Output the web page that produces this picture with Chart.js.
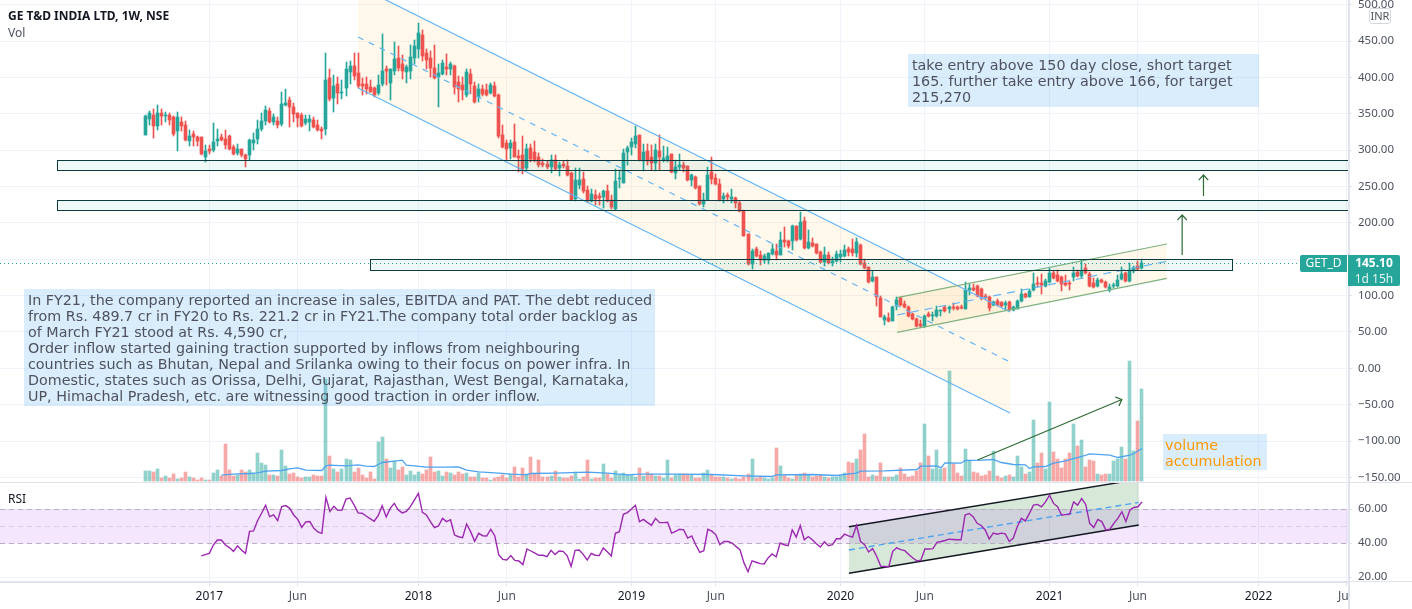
<!DOCTYPE html>
<html>
<head>
<meta charset="utf-8">
<script src="https://cdn.jsdelivr.net/npm/chart.js@4"></script>
<style>
  html, body { margin: 0; padding: 0; background: #fff; }
  #wrap { position: relative; width: 1412px; height: 609px; overflow: hidden; }
  canvas { position: absolute; left: 0; top: 0; }
  .t { position: absolute; white-space: nowrap; font-family: "DejaVu Sans", sans-serif; }
  .note { font-size: 14.3px; line-height: 16px; color: #4f525c; background: rgba(33,150,243,0.17); box-sizing: border-box; padding: 3px 4px; }
  .legend { font-family: "Noto Sans", sans-serif; font-size: 12px; line-height: 16px; color: #131722; left: 8px; }
</style>
</head>
<body>
<div id="wrap">
  <canvas id="c" width="1412" height="609"></canvas>
  <div class="t legend" style="top:8px;font-weight:bold;">GE T&amp;D INDIA LTD, 1W, NSE</div>
  <div class="t legend" style="top:25px;color:#4c525e;">Vol</div>
  <div class="t legend" style="top:491px;">RSI</div>
  <div class="t note" style="left:24px;top:289px;width:631px;height:117px;">In FY21, the company reported an increase in sales, EBITDA and PAT. The debt reduced<br>from Rs. 489.7 cr in FY20 to Rs. 221.2 cr in FY21.The company total order backlog as<br>of March FY21 stood at Rs. 4,590 cr,<br>Order inflow started gaining traction supported by inflows from neighbouring<br>countries such as Bhutan, Nepal and Srilanka owing to their focus on power infra. In<br>Domestic, states such as Orissa, Delhi, Gujarat, Rajasthan, West Bengal, Karnataka,<br>UP, Himachal Pradesh, etc. are witnessing good traction in order inflow.</div>
  <div class="t note" style="left:908px;top:54px;width:351px;height:53px;">take entry above 150 day close, short target<br>165. further take entry above 166, for target<br>215,270</div>
  <div class="t note" style="left:1163px;top:434px;width:104px;height:36px;color:#ff9800;padding:3px 2px;">volume<br>accumulation</div>
  <div style="position:absolute;left:1350px;top:583px;width:62px;height:26px;background:#fff;"></div>
  <div class="t" style="left:1369px;top:8px;width:22px;height:16px;border:1px solid #d6d8e0;border-radius:3px;box-sizing:border-box;background:#fff;font:11px/14px 'Noto Sans';color:#4c525e;text-align:center;">INR</div>
  <div class="t" style="left:1300px;top:255px;width:47px;height:17px;background:#26a69a;border-radius:2px 0 0 2px;color:#fff;font:12px/16px 'Noto Sans';text-align:center;">GET_D</div>
  <div class="t" style="left:1348px;top:255px;width:52px;height:31px;background:#26a69a;border-radius:0 2px 2px 0;color:#fff;font:bold 12px/16px 'Noto Sans';text-align:center;">145.10<br><span style="font-weight:normal;color:#e3f4f2;">1d 15h</span></div>
</div>
<script>
// weekly candles (bar 0 = Sep 2016)
const opens = [321,343,348,333,351,347,348,345,326,338,335,312,322,318,318,291,302,300,312,318,
  315,320,304,296,302,293,293,310,315,329,340,354,339,340,336,362,369,359,351,348,
  337,339,342,335,329,329,399,372,391,379,385,407,416,406,391,391,387,385,379,391,
  412,392,409,427,418,407,409,427,439,458,433,427,413,401,405,414,411,416,394,390,
  376,405,388,373,384,383,379,388,376,321,310,303,311,292,293,275,303,297,291,282,
  281,277,286,275,281,278,269,233,252,260,245,230,238,237,236,244,231,219,260,255,
  297,304,308,321,285,299,291,282,299,286,286,295,269,277,280,278,259,263,251,226,
  232,270,262,253,233,238,233,234,227,216,185,143,164,156,149,149,157,161,156,176,
  175,175,196,178,203,165,172,171,160,146,156,145,148,153,154,164,164,159,170,145,
  139,120,125,97,66,69,65,86,97,88,84,75,68,61,57,75,72,72,79,84,
  81,84,84,84,82,107,110,113,109,99,98,87,93,91,87,91,80,81,92,102,
  98,108,117,117,113,119,131,128,126,117,117,126,132,127,138,130,117,113,121,119,
  108,113,113,123,131,120,134,140,138];
const highs = [348,354,357,362,356,353,351,347,352,345,340,328,326,320,318,307,307,337,329,322,
  327,321,307,308,302,295,315,323,341,351,361,358,350,346,380,384,373,365,351,351,
  348,348,346,341,332,433,411,403,400,397,421,423,433,433,399,401,396,387,403,460,
  415,412,449,443,431,417,445,451,475,465,439,436,445,418,424,432,421,417,402,401,
  412,412,394,391,390,391,392,394,377,335,314,314,336,300,319,308,308,313,296,288,
  285,293,293,284,285,286,270,275,275,270,250,247,245,241,245,252,238,274,273,302,
  306,317,333,321,308,308,307,308,321,306,304,295,286,295,284,278,267,264,251,241,
  277,291,267,260,241,241,247,236,230,218,185,164,167,161,157,158,171,171,187,194,
  176,197,196,215,208,190,179,171,161,167,160,153,161,163,170,167,178,179,171,150,
  139,134,125,99,73,76,85,98,98,92,86,76,69,66,73,77,77,86,80,86,
  85,90,86,87,119,116,116,115,110,102,99,93,95,91,93,93,86,94,109,104,
  109,131,126,130,123,138,134,135,127,128,120,139,135,149,143,132,124,124,123,120,
  116,117,128,139,133,145,141,148,150];
const lows = [321,335,317,328,335,338,335,320,299,326,312,305,305,305,293,284,294,297,305,312,
  302,300,293,293,291,277,286,300,308,326,335,337,335,331,333,361,332,339,332,332,
  335,326,331,326,315,321,368,352,363,370,374,391,396,385,376,377,380,373,376,388,
  390,369,403,409,398,392,398,418,427,423,412,401,398,359,403,403,403,377,366,369,
  373,377,365,366,374,374,377,373,317,303,286,288,290,270,267,273,284,284,277,277,
  274,269,273,264,275,264,231,230,247,241,229,229,225,225,221,229,219,218,248,255,
  280,293,303,285,271,280,273,271,272,283,283,269,260,272,270,258,251,247,225,222,
  231,253,252,230,227,230,227,220,215,182,142,137,153,142,145,143,156,149,156,167,
  165,163,175,176,164,164,167,157,145,141,143,141,146,146,153,154,154,153,142,137,
  117,119,86,70,59,64,65,80,85,83,71,66,57,57,57,70,65,71,72,77,
  76,80,80,81,81,101,106,98,94,95,79,85,86,84,80,79,79,81,91,97,
  98,106,112,102,112,117,123,119,106,113,108,120,126,124,130,112,110,112,117,110,
  105,110,112,121,119,119,131,135,137];
const closes = [347,351,333,351,347,348,341,322,345,333,314,319,318,312,295,299,299,311,315,314,
  307,302,295,302,293,288,314,314,329,340,355,339,345,334,363,365,359,350,344,333,
  343,343,332,328,326,396,370,388,379,380,412,416,402,388,388,384,380,376,390,409,
  409,411,425,413,409,414,428,443,461,429,424,413,399,406,420,411,418,387,384,383,
  407,391,366,384,377,376,390,374,319,304,302,310,291,289,274,302,288,286,280,280,
  277,286,274,280,278,266,231,259,259,244,230,240,233,234,244,230,222,258,262,296,
  303,311,319,286,297,285,282,300,291,289,292,270,277,280,275,259,266,248,226,231,
  266,260,253,231,237,236,236,227,216,182,143,161,154,149,154,158,164,156,176,174,
  168,196,176,201,165,174,168,159,146,156,145,148,157,157,163,160,159,174,143,138,
  119,125,98,71,71,65,84,94,87,84,72,68,58,58,72,72,73,80,80,79,
  84,83,81,83,108,110,108,99,98,97,83,91,87,86,90,80,84,93,102,98,
  106,116,116,115,120,131,124,120,116,115,116,131,127,134,131,113,112,121,119,112,
  112,115,121,130,120,135,138,137,145.1];

const volumes = [33,33,30,39,12,18,12,24,9,12,30,15,12,6,12,6,6,27,36,18,
  114,36,18,21,36,30,36,24,87,57,51,21,21,18,96,48,24,27,15,12,
  15,15,21,16,18,309,78,39,30,39,69,66,30,42,21,12,30,9,120,135,
  69,42,63,36,45,21,33,21,30,24,36,75,30,33,18,30,27,21,30,24,
  27,15,15,27,12,12,6,12,15,21,12,24,45,15,42,24,75,24,66,15,
  15,18,33,15,12,12,18,30,9,15,66,9,12,12,54,24,12,33,21,27,
  21,21,15,42,18,30,22,16,17,12,64,12,19,22,22,19,20,11,11,25,
  34,20,14,14,13,10,8,10,9,13,22,67,11,15,11,8,10,100,46,19,
  11,7,19,24,25,19,13,17,21,13,10,13,13,17,25,59,55,67,94,142,
  14,19,18,55,13,13,13,19,40,22,13,16,32,55,172,76,37,94,39,42,
  331,52,25,17,97,61,28,25,16,21,31,93,16,10,16,19,13,76,43,22,
  30,185,55,85,37,238,88,67,40,67,85,172,106,124,43,64,61,22,19,24,
  22,61,67,103,67,361,91,181,277];

// volume moving average: the bars where its line bends, and its level there
const maBars = [19,22,26,28,30,34,36,38,40,44,45,46,50,53,55,57,58,59,62,64,65,67,70,75,78,80,83,88,91,95,96,102,110,115,120,123,
  132,141,149,156,157,166,172,177,178,184,192,193,197,198,199,203,204,208,211,213,216,219,220,221,224,226,229,233,235,240,242,245,246,248];
const maValues = [19,22,24,26,31,33,38,41,34,33,47,49,47,50,46,45,51,57,61,64,49,47,43,43,44,34,29,25,22,20,24,25,28,25,20,22,
  22,21,17,15,20,21,18,25,31,32,36,46,47,41,56,55,63,64,66,57,51,50,39,44,45,55,62,75,83,79,72,79,84,99];

const rsiStart = 14; // RSI begins at this bar
const rsiValues = [32.4,33.2,33.9,38.8,41.8,41.8,38.8,37.3,35.1,38.4,35.9,33.9,46.9,47.1,53.1,57.5,62.2,55.5,56.5,53.1,
  61.4,62,60.4,56.5,53.9,49.2,52.4,52.6,48.6,46.5,45.7,66.9,58.6,61.6,59.2,59.4,65.9,66.5,62.4,57.7,
  57.5,55.9,54.3,52.8,56.1,62,55.3,60.4,63.3,59.4,57.7,58.6,61.4,65.3,69.2,58,56.5,52.6,49,50,
  54.5,52.6,53.7,44.7,43.7,43.2,51.2,46.7,41,45.7,44.3,44.1,48,44.3,33,30.4,30,32.6,29.8,29.4,
  27.3,36.5,35.3,34.1,32.8,32.8,32,35.7,33.2,35.3,35.1,32.6,26.3,35.7,35.9,33.3,30,33.9,32.8,32.6,
  37.1,34.9,32.4,45.7,46.7,56.9,57.9,60,62.2,
  52.6,53.9,52,50.5,54.5,52,52,52.2,45.8,46.8,48.1,47.7,42.9,44.2,39,34.5,35.5,48.1,47,44.8,
  39,40.9,40.9,40,38,36.1,28.3,23.1,29.5,28.7,27.9,27.7,31.2,33.6,31.8,40,39,38.4,47.7,43.5,
  50.3,41.9,43.8,41.9,39.6,37.6,40.7,38.4,39,42.5,42.5,45.2,44.2,43.5,50.3,40.9,39,34.7,36.7,32.2,
  26.4,26.2,26,35.1,37.2,36.1,35.5,33.2,31.2,29.5,29.9,36.5,36.5,36.7,40.4,40.9,41.5,42.3,42.1,41.9,
  41.9,56.5,57.4,55.5,51.6,50.3,47.7,42.3,45.8,45.2,45.8,45.4,40.9,42.9,49.7,54.5,53,57.4,62.3,62.7,
  61.3,64.2,68.1,63.3,61.3,56.5,56.7,56.9,64.2,62.3,66.2,62.7,51.6,49.1,53.9,52.6,47.7,48.1,51.6,54.5,
  58.4,52.6,59.4,60.9,61.3,64.2];

const priceTicks = [-150,-100,-50,0,50,100,150,200,250,300,350,400,450,500];
const rsiTicks = [20,40,60];
const timeTickBars = [16,38,68,90,121,142,173,194,225,247,277,299];
const timeTickLabels = ['2017','Jun','2018','Jun','2019','Jun','2020','Jun','2021','Jun','2022','Jun'];
const lastPrice = 145.10;

// drawings on the chart, in bar number / price (or RSI) units
const downBars = [53, 215.2];
const downUpper = [525.6, 77.4];
const downMiddle = [455.5, 8.7];
const downLower = [385.4, -61.4];
const upBars = [187.1, 254.2];
const upUpper = [97.1, 170.9];
const upMiddle = [73.3, 147.1];
const upLower = [49.5, 123.7];
const zones = [
  { from: -21.9, to: 299.25, top: 286, bottom: 272.2 },
  { from: -21.9, to: 299.25, top: 231, bottom: 217.2 },
  { from: 56, to: 270.3, top: 149.9, bottom: 135.6 }
];
const arrows = [
  { x: [258, 258], y: [155.8, 210.8] },
  { x: [263.3, 263.3], y: [237, 265.8] },
  { x: [207.1, 243], y: [-126, -42.9] }
];
const rsiBars = [175.1, 247.2];
const rsiUpper = [49.6, 77.5];
const rsiMiddle = [35.9, 63.9];
const rsiLower = [22.2, 50.6];

const UP = '#26a69a', DOWN = '#ef5350';
const GRID = '#f0f3fa', AXIS = '#dfe3ee', LABEL = '#4c525e';
const FONT = 'Noto Sans';

const isUp = i => closes[i] >= opens[i];
const candleColors = opens.map((o, i) => isUp(i) ? UP : DOWN);
const volColors = opens.map((o, i) => isUp(i) ? 'rgba(38,166,154,0.5)' : 'rgba(239,83,80,0.5)');

function pt(chart, x, y, axis) {
  return [chart.scales.x.getPixelForValue(x), chart.scales[axis || 'y'].getPixelForValue(y)];
}

function seg(ctx, chart, bars, vals, axis, color, dash, width) {
  const a = pt(chart, bars[0], vals[0], axis), b = pt(chart, bars[1], vals[1], axis);
  ctx.strokeStyle = color;
  ctx.lineWidth = width || 1.2;
  ctx.setLineDash(dash || []);
  ctx.beginPath(); ctx.moveTo(a[0], a[1]); ctx.lineTo(b[0], b[1]); ctx.stroke();
  ctx.setLineDash([]);
}

function poly(ctx, chart, bars, upper, lower, axis, color) {
  const a = pt(chart, bars[0], upper[0], axis), b = pt(chart, bars[1], upper[1], axis);
  const c = pt(chart, bars[1], lower[1], axis), d = pt(chart, bars[0], lower[0], axis);
  ctx.fillStyle = color;
  ctx.beginPath(); ctx.moveTo(a[0], a[1]); ctx.lineTo(b[0], b[1]); ctx.lineTo(c[0], c[1]); ctx.lineTo(d[0], d[1]); ctx.closePath(); ctx.fill();
}

function paneClip(ctx, chart, axis) {
  const s = chart.scales[axis], area = chart.chartArea;
  ctx.beginPath(); ctx.rect(area.left, s.top, area.right - area.left, s.bottom - s.top); ctx.clip();
}

// line up candles and volume on whole pixels, the way the original does
const snapBars = {
  id: 'snapBars',
  afterDatasetsUpdate(chart) {
    chart.data.datasets.forEach((ds, n) => {
      if (ds.type !== 'bar') return;
      chart.getDatasetMeta(n).data.forEach(el => {
        el.x = Math.floor(el.x) + 0.5;
        el.y = Math.round(el.y);
        el.base = Math.round(el.base);
        if (el.y === el.base) el.y -= 1;
      });
    });
  }
};

const drawings = {
  id: 'drawings',
  beforeDatasetsDraw(chart) {
    const ctx = chart.ctx, area = chart.chartArea;
    ctx.save();
    paneClip(ctx, chart, 'y');
    poly(ctx, chart, downBars, downUpper, downLower, 'y', 'rgba(255,170,0,0.08)');
    poly(ctx, chart, upBars, upUpper, upLower, 'y', 'rgba(255,170,0,0.08)');
    ctx.restore();

    ctx.save();
    paneClip(ctx, chart, 'yRsi');
    poly(ctx, chart, rsiBars, rsiUpper, rsiLower, 'yRsi', 'rgba(56,142,60,0.2)');
    const y60 = chart.scales.yRsi.getPixelForValue(60), y40 = chart.scales.yRsi.getPixelForValue(40);
    ctx.fillStyle = 'rgba(135,5,235,0.1)';
    ctx.fillRect(area.left, y60, area.right - area.left, y40 - y60);
    [[60, '#b9aebf'], [50, '#d9cfe3'], [40, '#b9aebf']].forEach(([v, color]) => {
      const y = Math.round(chart.scales.yRsi.getPixelForValue(v)) + 0.5;
      ctx.strokeStyle = color; ctx.lineWidth = 1; ctx.setLineDash([5, 4]);
      ctx.beginPath(); ctx.moveTo(area.left, y); ctx.lineTo(area.right, y); ctx.stroke();
    });
    ctx.setLineDash([]);
    seg(ctx, chart, rsiBars, rsiUpper, 'yRsi', '#131722', null, 1.4);
    seg(ctx, chart, rsiBars, rsiLower, 'yRsi', '#131722', null, 1.4);
    seg(ctx, chart, rsiBars, rsiMiddle, 'yRsi', '#4da3f0', [6, 4], 1.4);
    ctx.restore();
  },
  afterDatasetsDraw(chart) {
    const ctx = chart.ctx, area = chart.chartArea;
    ctx.save();
    paneClip(ctx, chart, 'y');
    seg(ctx, chart, downBars, downUpper, 'y', '#64b5f6');
    seg(ctx, chart, downBars, downLower, 'y', '#64b5f6');
    seg(ctx, chart, downBars, downMiddle, 'y', '#64b5f6', [6, 6]);
    seg(ctx, chart, upBars, upUpper, 'y', '#7fb27f');
    seg(ctx, chart, upBars, upLower, 'y', '#7fb27f');
    seg(ctx, chart, upBars, upMiddle, 'y', '#64b5f6', [8, 6]);

    // last price dotted line
    const ly = Math.round(chart.scales.y.getPixelForValue(lastPrice)) + 0.5;
    ctx.strokeStyle = UP; ctx.lineWidth = 1; ctx.setLineDash([1, 3]);
    ctx.beginPath(); ctx.moveTo(area.left, ly); ctx.lineTo(area.right, ly); ctx.stroke();
    ctx.setLineDash([]);

    zones.forEach(z => {
      const a = pt(chart, z.from, z.top), b = pt(chart, z.to, z.bottom);
      const x = Math.round(a[0]) + 0.5, y = Math.round(a[1]) + 0.5;
      const w = Math.round(b[0]) - Math.round(a[0]), h = Math.round(b[1]) - Math.round(a[1]);
      ctx.fillStyle = 'rgba(38,166,154,0.08)';
      ctx.fillRect(x, y, w, h);
      ctx.strokeStyle = '#0b3b40'; ctx.lineWidth = 1;
      ctx.strokeRect(x, y, w, h);
    });

    arrows.forEach(ar => {
      const a = pt(chart, ar.x[0], ar.y[0]), b = pt(chart, ar.x[1], ar.y[1]);
      const ang = Math.atan2(b[1] - a[1], b[0] - a[0]);
      ctx.strokeStyle = '#2e6b34'; ctx.lineWidth = 1.2;
      ctx.beginPath();
      ctx.moveTo(a[0], a[1]); ctx.lineTo(b[0], b[1]);
      ctx.moveTo(b[0] + 7 * Math.cos(ang + 2.4), b[1] + 7 * Math.sin(ang + 2.4));
      ctx.lineTo(b[0], b[1]);
      ctx.lineTo(b[0] + 7 * Math.cos(ang - 2.4), b[1] + 7 * Math.sin(ang - 2.4));
      ctx.stroke();
    });
    ctx.restore();
  },
  afterDraw(chart) {
    // pane dividers and the price axis edge run past the plot area
    const ctx = chart.ctx, area = chart.chartArea;
    ctx.save();
    ctx.fillStyle = AXIS;
    ctx.fillRect(0, Math.round(chart.scales.y.bottom), chart.width, 1);
    ctx.fillRect(0, Math.round(area.bottom) - 1, chart.width, 1);
    ctx.fillRect(Math.round(area.right), 0, 2, chart.height);
    ctx.restore();
  }
};

new Chart(document.getElementById('c').getContext('2d'), {
  type: 'bar',
  data: {
    datasets: [
      { type: 'bar', order: 5, grouped: false, xAxisID: 'x', yAxisID: 'yVol', barThickness: 3, borderWidth: 0,
        backgroundColor: volColors, data: volumes.map((v, i) => ({ x: i, y: v })) },
      { type: 'line', order: 4, xAxisID: 'x', yAxisID: 'yVol', borderColor: '#4da3f0', borderWidth: 1.3, pointRadius: 0, tension: 0,
        data: maBars.map((b, i) => ({ x: b, y: maValues[i] })) },
      { type: 'bar', order: 3, grouped: false, xAxisID: 'x', yAxisID: 'y', barThickness: 1, borderWidth: 0,
        backgroundColor: candleColors, data: highs.map((h, i) => ({ x: i, y: [lows[i], h] })) },
      { type: 'bar', order: 2, grouped: false, xAxisID: 'x', yAxisID: 'y', barThickness: 3, borderWidth: 0, minBarLength: 1,
        backgroundColor: candleColors, data: opens.map((o, i) => ({ x: i, y: [Math.min(o, closes[i]), Math.max(o, closes[i])] })) },
      { type: 'line', order: 1, xAxisID: 'x', yAxisID: 'yRsi', borderColor: '#9c27b0', borderWidth: 1.4, pointRadius: 0, tension: 0,
        data: rsiValues.map((v, i) => ({ x: rsiStart + i, y: v })) }
    ]
  },
  options: {
    responsive: false,
    animation: false,
    devicePixelRatio: 1,
    layout: { padding: 0 },
    plugins: { legend: { display: false }, tooltip: { enabled: false }, title: { display: false } },
    scales: {
      x: {
        type: 'linear', position: 'bottom', min: -36.07, max: 299.25, offset: false,
        afterBuildTicks: s => { s.ticks = timeTickBars.map(v => ({ value: v })); },
        afterFit: s => { s.height = 27; s.paddingLeft = 0; s.paddingRight = 0; },
        grid: { offset: false, color: GRID, tickColor: AXIS, tickLength: 4 },
        border: { color: AXIS },
        ticks: {
          autoSkip: false, maxRotation: 0, padding: 3,
          callback: v => timeTickLabels[timeTickBars.indexOf(v)],
          color: c => (c.index % 2 === 0 ? '#131722' : LABEL),
          font: { family: FONT, size: 12 }
        }
      },
      y: {
        type: 'linear', position: 'right', stack: 'panes', stackWeight: 482, weight: 1,
        min: -156.3, max: 506.4,
        afterBuildTicks: s => { s.ticks = priceTicks.map(v => ({ value: v })); },
        afterFit: s => { s.width = 64; s.paddingTop = 0; s.paddingBottom = 0; },
        grid: { color: GRID, tickColor: AXIS, tickLength: 4 },
        border: { color: AXIS },
        ticks: { autoSkip: false, padding: 6, color: LABEL, font: { family: FONT, size: 11.5 }, callback: v => v.toFixed(2).replace('-', '\u2212') }
      },
      yRsi: {
        type: 'linear', position: 'right', stack: 'panes', stackWeight: 100, weight: 2,
        min: 17.06, max: 75.9,
        afterBuildTicks: s => { s.ticks = rsiTicks.map(v => ({ value: v })); },
        afterFit: s => { s.width = 64; s.paddingTop = 0; s.paddingBottom = 0; },
        grid: { color: GRID, tickColor: AXIS, tickLength: 4 },
        border: { color: AXIS },
        ticks: { autoSkip: false, padding: 6, color: LABEL, font: { family: FONT, size: 11.5 }, callback: v => v.toFixed(2) }
      },
      yVol: { type: 'linear', display: false, min: -301.5, max: 1444.5 }
    }
  },
  plugins: [snapBars, drawings]
});
</script>
</body>
</html>
